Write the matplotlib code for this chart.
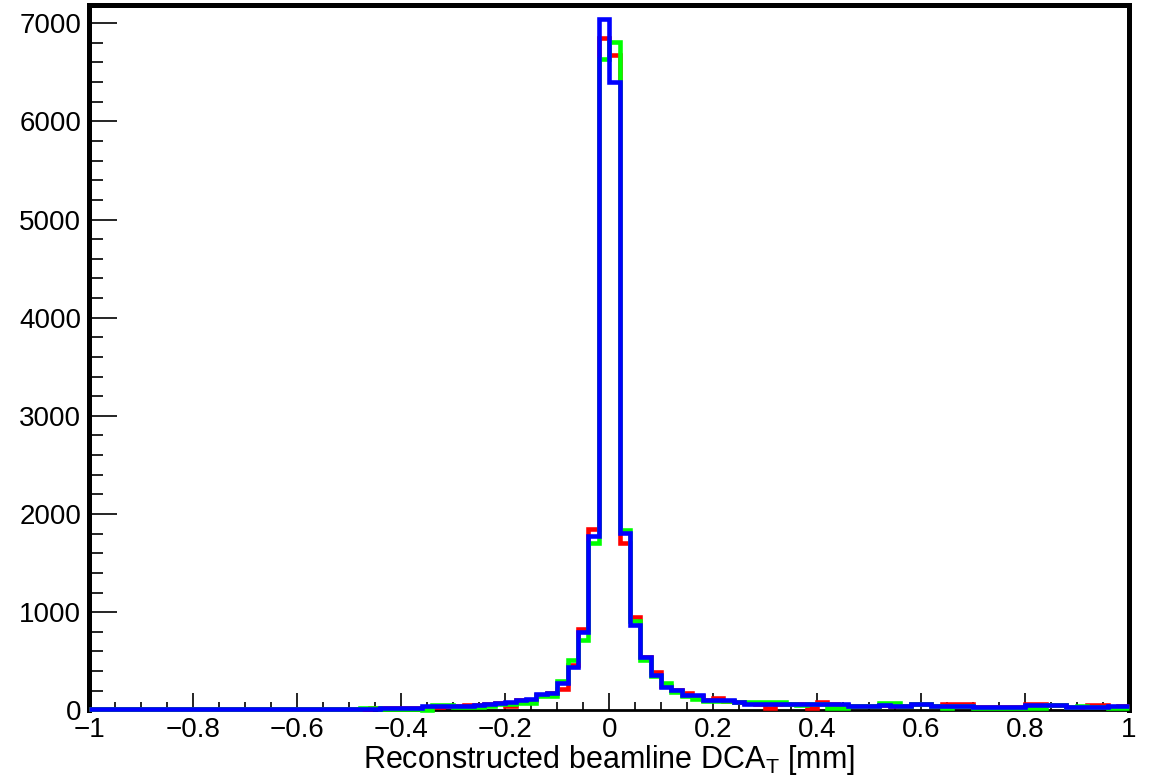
import numpy as np
import matplotlib
matplotlib.use("Agg")
import matplotlib.pyplot as plt
from matplotlib.ticker import MultipleLocator, FuncFormatter

# 100 bins of width 0.02 between -1 and 1
bin_edges = np.linspace(-1.0, 1.0, 101)

counts_red = [
    14, 14, 14, 14, 14, 14, 14, 14, 14, 14,
    14, 14, 14, 14, 14, 14, 14, 14, 14, 14,
    14, 14, 15, 15, 15, 15, 16, 24, 20, 20,
    20, 20, 22, 38, 40, 45, 50, 55, 60, 70,
    40, 105, 110, 160, 175, 221, 460, 830, 1844, 6850,
    6680, 1707, 952, 540, 391, 245, 205, 180, 150, 110,
    123, 100, 90, 70, 65, 24, 60, 60, 60, 24,
    82, 60, 55, 45, 48, 48, 55, 45, 45, 62,
    62, 45, 64, 60, 60, 31, 31, 31, 31, 31,
    60, 60, 52, 52, 31, 31, 52, 52, 31, 45,
]

counts_green = [
    14, 14, 14, 14, 14, 14, 14, 14, 14, 14,
    14, 14, 14, 14, 14, 14, 14, 14, 14, 14,
    14, 14, 15, 15, 15, 15, 24, 28, 18, 18,
    18, 18, 8, 50, 50, 30, 30, 30, 45, 60,
    60, 75, 75, 150, 150, 295, 510, 721, 1701, 6640,
    6810, 1837, 911, 510, 346, 279, 190, 150, 113, 100,
    100, 95, 85, 85, 87, 87, 87, 60, 55, 60,
    62, 28, 28, 40, 48, 48, 70, 70, 45, 62,
    62, 45, 28, 45, 45, 25, 25, 25, 25, 25,
    20, 20, 52, 52, 31, 40, 31, 31, 25, 25,
]

counts_blue = [
    14, 14, 14, 14, 14, 14, 14, 14, 14, 14,
    14, 14, 14, 14, 14, 14, 14, 14, 14, 14,
    14, 14, 15, 15, 15, 15, 16, 18, 20, 21,
    22, 24, 40, 40, 42, 48, 48, 52, 62, 80,
    85, 108, 112, 165, 180, 276, 445, 796, 1776, 7040,
    6398, 1803, 867, 544, 357, 238, 204, 155, 155, 106,
    106, 106, 89, 62, 62, 62, 62, 62, 62, 62,
    62, 62, 62, 48, 48, 48, 55, 45, 45, 62,
    62, 45, 45, 45, 45, 31, 31, 31, 31, 31,
    52, 52, 52, 52, 31, 31, 31, 31, 40, 45,
]

plt.rcParams["font.family"] = ["Liberation Sans", "DejaVu Sans"]

fig = plt.figure(figsize=(11.53, 7.79), dpi=100)
ax = fig.add_axes([0.0776, 0.0881, 0.9014, 0.9061])

for vals, col in [(counts_red, "#ff0000"), (counts_green, "#00ff00"), (counts_blue, "#0000ff")]:
    ax.stairs(vals, bin_edges, color=col, linewidth=3.3, baseline=None,
              zorder=3, clip_on=False)

ax.set_xlim(-1, 1)
ax.set_ylim(0, 7190)

ax.xaxis.set_major_locator(MultipleLocator(0.2))
ax.xaxis.set_minor_locator(MultipleLocator(0.05))
ax.yaxis.set_major_locator(MultipleLocator(1000))
ax.yaxis.set_minor_locator(MultipleLocator(200))

def fmt_x(v, pos):
    if abs(v) < 1e-9:
        return "0"
    s = f"{v:g}"
    return s.replace("-", "\u2212")

ax.xaxis.set_major_formatter(FuncFormatter(fmt_x))
ax.yaxis.set_major_formatter(FuncFormatter(lambda v, p: f"{int(round(v))}"))

ax.tick_params(axis="both", which="both", direction="in", top=False, right=False,
               width=1.2, colors="black", labelsize=20)
ax.tick_params(axis="y", which="major", length=20, pad=6)
ax.tick_params(axis="y", which="minor", length=10)
ax.tick_params(axis="x", which="major", length=12, pad=5)
ax.tick_params(axis="x", which="minor", length=6)

for sp in ax.spines.values():
    sp.set_linewidth(3.6)
    sp.set_color("black")
ax.spines["bottom"].set_linewidth(2.0)

ax.set_xlabel("Reconstructed beamline DCA$_\\mathregular{T}$ [mm]", fontsize=22, labelpad=0)

fig.savefig("out.png", dpi=100)
